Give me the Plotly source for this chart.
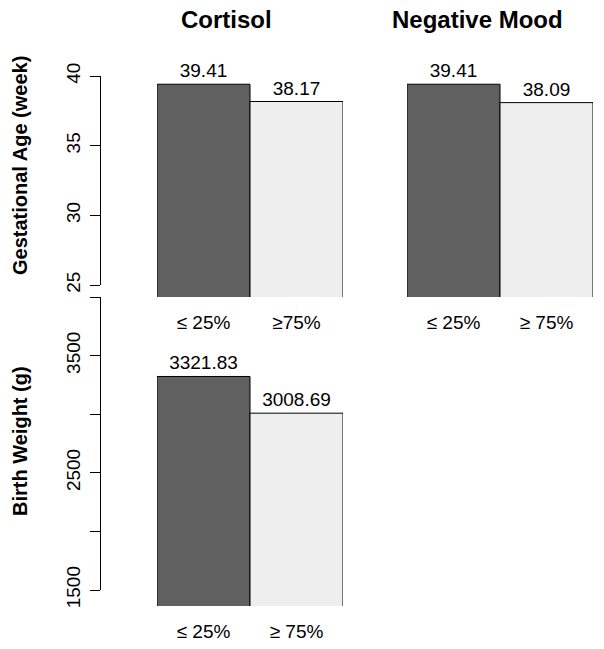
import plotly.graph_objects as go

W, H = 604, 649

groups = ["≤ 25%", "≥75%"]
groups_r = ["≤ 25%", "≥ 75%"]
groups_b = ["≤ 25%", "≥ 75%"]
cortisol_ga = [39.41, 38.17]
mood_ga = [39.41, 38.09]
cortisol_bw = [3321.83, 3008.69]
ga_ticks = [25, 30, 35, 40]
bw_ticks = [1500, 2000, 2500, 3000, 3500, 4000]
bw_ticklabels = ["1500", "", "2500", "", "3500", ""]
bar_colors = ["#606060", "#EEEEEE"]
FONT = "Liberation Sans, Arial, sans-serif"


def fx(p):
    return p / W


def fy(p):
    return 1 - p / H


# pixel mapping of the value axes
ga_scale = (285 - 76) / 15.0          # px per week
bw_scale = (590 - 297) / 2500.0       # px per gram
ga_range = [25 - (297 - 285) / ga_scale, 40 + (76 - 60) / ga_scale]
bw_range = [1500 - (606 - 590) / bw_scale, 4000]

fig = go.Figure()


def add_bars(vals, xa, ya, fmt):
    fig.add_trace(go.Bar(
        x=[0.5, 1.5], y=vals, width=[1, 1],
        marker=dict(color=bar_colors, line=dict(color="black", width=1)),
        text=[fmt.format(v) for v in vals], textposition="outside",
        textfont=dict(family=FONT, size=19, color="black"),
        constraintext="none", cliponaxis=False,
        xaxis=xa, yaxis=ya, showlegend=False, hoverinfo="skip"))


add_bars(cortisol_ga, "x", "y", "{:.2f}")
add_bars(mood_ga, "x2", "y2", "{:.2f}")
add_bars(cortisol_bw, "x3", "y3", "{:.2f}")

# dummy traces so that the free value axes are drawn
fig.add_trace(go.Scatter(x=[None], y=[None], xaxis="x", yaxis="y4", showlegend=False))
fig.add_trace(go.Scatter(x=[None], y=[None], xaxis="x3", yaxis="y5", showlegend=False))

hidden_y = dict(showline=False, showgrid=False, zeroline=False, showticklabels=False,
                ticks="", automargin=False)


def xaxis_def(dom_px, anchor, labels):
    return dict(domain=[fx(dom_px[0]), fx(dom_px[1])], range=[0, 2], anchor=anchor,
                tickvals=[0.5, 1.5], ticktext=labels, showline=False, showgrid=False,
                zeroline=False, ticks="outside", ticklen=8, tickcolor="rgba(0,0,0,0)",
                tickfont=dict(family=FONT, size=19, color="black"), fixedrange=True,
                automargin=False)


def free_axis(dom_px, rng, tv, tt):
    return dict(domain=[fy(dom_px[0]), fy(dom_px[1])], range=rng, anchor="free",
                position=fx(100), side="left", showline=True, linecolor="black",
                linewidth=1, ticks="outside", ticklen=10, tickcolor="black",
                tickwidth=1, tickvals=tv, ticktext=tt, tickangle=-90,
                ticklabelstandoff=2,
                tickfont=dict(family=FONT, size=19, color="black"),
                showgrid=False, zeroline=False, automargin=False)


fig.update_layout(
    template="none",
    width=W, height=H, margin=dict(l=0, r=0, t=0, b=0, autoexpand=False),
    paper_bgcolor="white", plot_bgcolor="rgba(0,0,0,0)",
    xaxis=xaxis_def([157, 343], "y", groups),
    xaxis2=xaxis_def([407, 593], "y2", groups_r),
    xaxis3=xaxis_def([157, 343], "y3", groups_b),
    yaxis=dict(domain=[fy(297), fy(60)], range=ga_range, anchor="x", **hidden_y),
    yaxis2=dict(domain=[fy(297), fy(60)], range=ga_range, anchor="x2", **hidden_y),
    yaxis3=dict(domain=[fy(606), fy(297)], range=bw_range, anchor="x3", **hidden_y),
    yaxis4=free_axis([285, 76], [25, 40], ga_ticks, [str(t) for t in ga_ticks]),
    yaxis5=free_axis([590, 297], [1500, 4000], bw_ticks, bw_ticklabels),
    bargap=0,
)

ann = [
    dict(text="<b>Cortisol</b>", x=fx(226), y=fy(19), size=24, angle=0),
    dict(text="<b>Negative Mood</b>", x=fx(477), y=fy(19), size=24, angle=0),
    dict(text="<b>Gestational Age (week)</b>", x=fx(20), y=fy(166), size=20, angle=-90),
    dict(text="<b>Birth Weight (g)</b>", x=fx(20), y=fy(441), size=20, angle=-90),
]
for a in ann:
    fig.add_annotation(text=a["text"], x=a["x"], y=a["y"], xref="paper", yref="paper",
                       xanchor="center", yanchor="middle", showarrow=False,
                       textangle=a["angle"],
                       font=dict(family=FONT, size=a["size"], color="black"))

fig.write_html(
    "out.html",
    config={"displayModeBar": False, "staticPlot": True},
    post_script="document.body.style.margin='0';document.body.style.overflow='hidden';",
)
